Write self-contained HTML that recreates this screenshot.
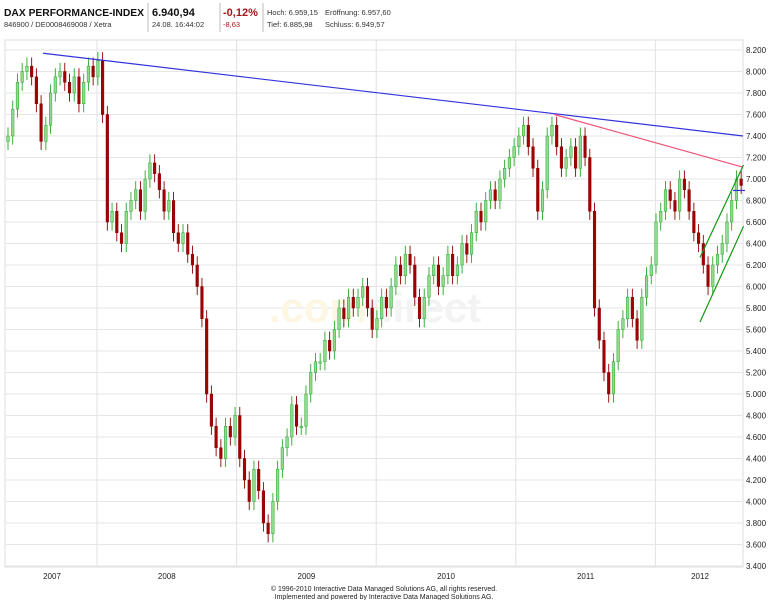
<!DOCTYPE html>
<html><head><meta charset="utf-8"><style>
body{margin:0;background:#fff;width:768px;height:600px;overflow:hidden;font-family:"Liberation Sans",sans-serif}
</style></head><body>
<svg width="768" height="600" viewBox="0 0 768 600" font-family="Liberation Sans, sans-serif">
<g>
<text x="4" y="16" font-size="10.5" font-weight="bold" fill="#111" textLength="140" lengthAdjust="spacingAndGlyphs">DAX PERFORMANCE-INDEX</text>
<text x="4" y="27" font-size="7.5" fill="#333">846900 / DE0008469008 / Xetra</text>
<line x1="148" y1="3" x2="148" y2="32" stroke="#bbb"/>
<text x="152" y="16" font-size="11" font-weight="bold" fill="#111">6.940,94</text>
<text x="152" y="27" font-size="7.5" fill="#333">24.08. 16:44:02</text>
<line x1="220" y1="3" x2="220" y2="32" stroke="#bbb"/>
<text x="223" y="16" font-size="11" font-weight="bold" fill="#a01818">-0,12%</text>
<text x="223" y="27" font-size="7.5" fill="#a01818">-8,63</text>
<line x1="263" y1="3" x2="263" y2="32" stroke="#bbb"/>
<text x="267" y="15" font-size="7.5" fill="#333">Hoch: 6.959,15</text>
<text x="267" y="27" font-size="7.5" fill="#333">Tief: 6.885,98</text>
<text x="325" y="15" font-size="7.5" fill="#333">Eröffnung: 6.957,60</text>
<text x="325" y="27" font-size="7.5" fill="#333">Schluss: 6.949,57</text>
</g>
<rect x="5" y="40" width="738" height="527" fill="#fff" stroke="#ddd"/>
<g id="grid"></g>
<text x="375" y="322" font-size="42" font-weight="bold" fill="#f3f3f3" text-anchor="middle"><tspan fill="#fdf6e2">.com</tspan>direct</text>
<g id="candles"></g>
<g id="lines"></g>
<g id="yaxis"></g>
<g id="xaxis"></g>
<text x="384" y="591" font-size="7" fill="#222" text-anchor="middle">© 1996-2010 Interactive Data Managed Solutions AG, all rights reserved.</text>
<text x="384" y="599" font-size="7" fill="#222" text-anchor="middle">Implemented and powered by Interactive Data Managed Solutions AG.</text>
</svg>
<script>
const closes=[7400,7650,7900,8000,8050,7950,7700,7350,7500,7800,
7950,8000,7900,7800,7950,7700,7900,8050,7950,8100,
7600,6600,6700,6500,6400,6700,6800,6900,6700,7000,
7150,7050,6900,6700,6800,6500,6400,6500,6300,6200,
6000,5700,5000,4700,4500,4400,4700,4600,4800,4400,
4200,4000,4300,4100,3800,3700,4000,4300,4500,4600,
4900,4700,4700,5000,5200,5300,5300,5500,5400,5600,
5800,5700,5900,5800,5900,6000,5800,5600,5700,5900,
5800,6000,6200,6100,6300,6200,5900,5700,5900,6100,
6200,6000,6100,6300,6100,6200,6400,6300,6500,6700,
6600,6800,6900,6800,7000,7100,7200,7300,7400,7500,
7300,7100,6700,6900,7400,7500,7300,7100,7200,7300,
7100,7400,7200,6700,5800,5500,5200,5000,5300,5600,
5700,5900,5700,5500,5900,6100,6200,6600,6700,6900,
6800,6700,7000,6900,6700,6500,6400,6200,6000,6200,
6300,6400,6600,6800,7000,6940];
const yTicks=[3400,3600,3800,4000,4200,4400,4600,4800,5000,5200,5400,5600,5800,6000,6200,6400,6600,6800,7000,7200,7400,7600,7800,8000,8200];
const yearLabels=["2007","2008","2009","2010","2011","2012"];
const yearStarts=[-0.33,1,2,3,4,5];
const trendBlue=[[7.4,8170],[155.4,7400]];
const trendPink=[[115.5,7600],[155.4,7110]];
const channelUpper=[[146.3,6270],[155.5,7130]];
const channelLower=[[146.3,5670],[155.5,6560]];
const NS="http://www.w3.org/2000/svg";
const y=v=>50+(8200-v)/200*21.5;
const x=i=>8+i*4.73;
const yr=t=>97+(t-1)*139.6;
function mk(t,a,p){const e=document.createElementNS(NS,t);for(const k in a)e.setAttribute(k,a[k]);p.appendChild(e);return e;}
const grid=document.getElementById('grid'),ya=document.getElementById('yaxis'),xa=document.getElementById('xaxis');
yTicks.forEach(v=>{
 const l=mk('line',{x1:5,x2:743,y1:y(v),y2:y(v),stroke:'#e6e6e6'},grid);
 
 
 const t=mk('text',{x:746,y:y(v)+3,'font-size':8,fill:'#222'},ya);
 t.textContent=(v/1000).toFixed(3);
 
 
});
yearLabels.forEach((s,k)=>{
 if(k>0){const l=mk('line',{x1:yr(yearStarts[k]),x2:yr(yearStarts[k]),y1:40,y2:567,stroke:'#e2e2e2'},grid);
 
 }
 const cx=k===0?52:(k===5?700:(yr(yearStarts[k])+yr(yearStarts[k]+1))/2);
 const t=mk('text',{x:cx,y:579,'font-size':8,fill:'#222','text-anchor':'middle'},xa);
 t.textContent=s;
 
 
});
const cg=document.getElementById('candles');
closes.forEach((c,i)=>{
 const o=i?closes[i-1]:c-50;const up=c>=o;const col=up?'#2aa52a':'#8b0000';
 const hi=Math.max(o,c)+80,lo=Math.min(o,c)-80;
 const w=mk('line',{x1:x(i),x2:x(i),y1:y(hi),y2:y(lo),stroke:col,'stroke-width':0.9},cg);
 
 
 const top=y(Math.max(o,c)),h=Math.max(1.5,y(Math.min(o,c))-top);
 const r=mk('rect',{x:x(i)-1.3,y:top,width:2.6,height:h,fill:up?'#8fdc8f':'#a00000',stroke:col,'stroke-width':0.5},cg);
 
 
});
const lg=document.getElementById('lines');
[[trendBlue,'#3333dd','resistance-line'],[trendPink,'#ee5577','pink-trend-line'],[channelUpper,'#119911','channel-upper'],[channelLower,'#119911','channel-lower']].forEach(([p,c,n])=>{
 const l=mk('line',{x1:x(p[0][0]),y1:y(p[0][1]),x2:x(p[1][0]),y2:y(p[1][1]),stroke:c,'stroke-width':1.2},lg);
 
 
});
const last=closes[closes.length-1];
const m=mk('line',{x1:733,x2:745,y1:y(last)+5,y2:y(last)+5,stroke:'#3333dd','stroke-width':1.2},lg);


</script>
</body></html>
